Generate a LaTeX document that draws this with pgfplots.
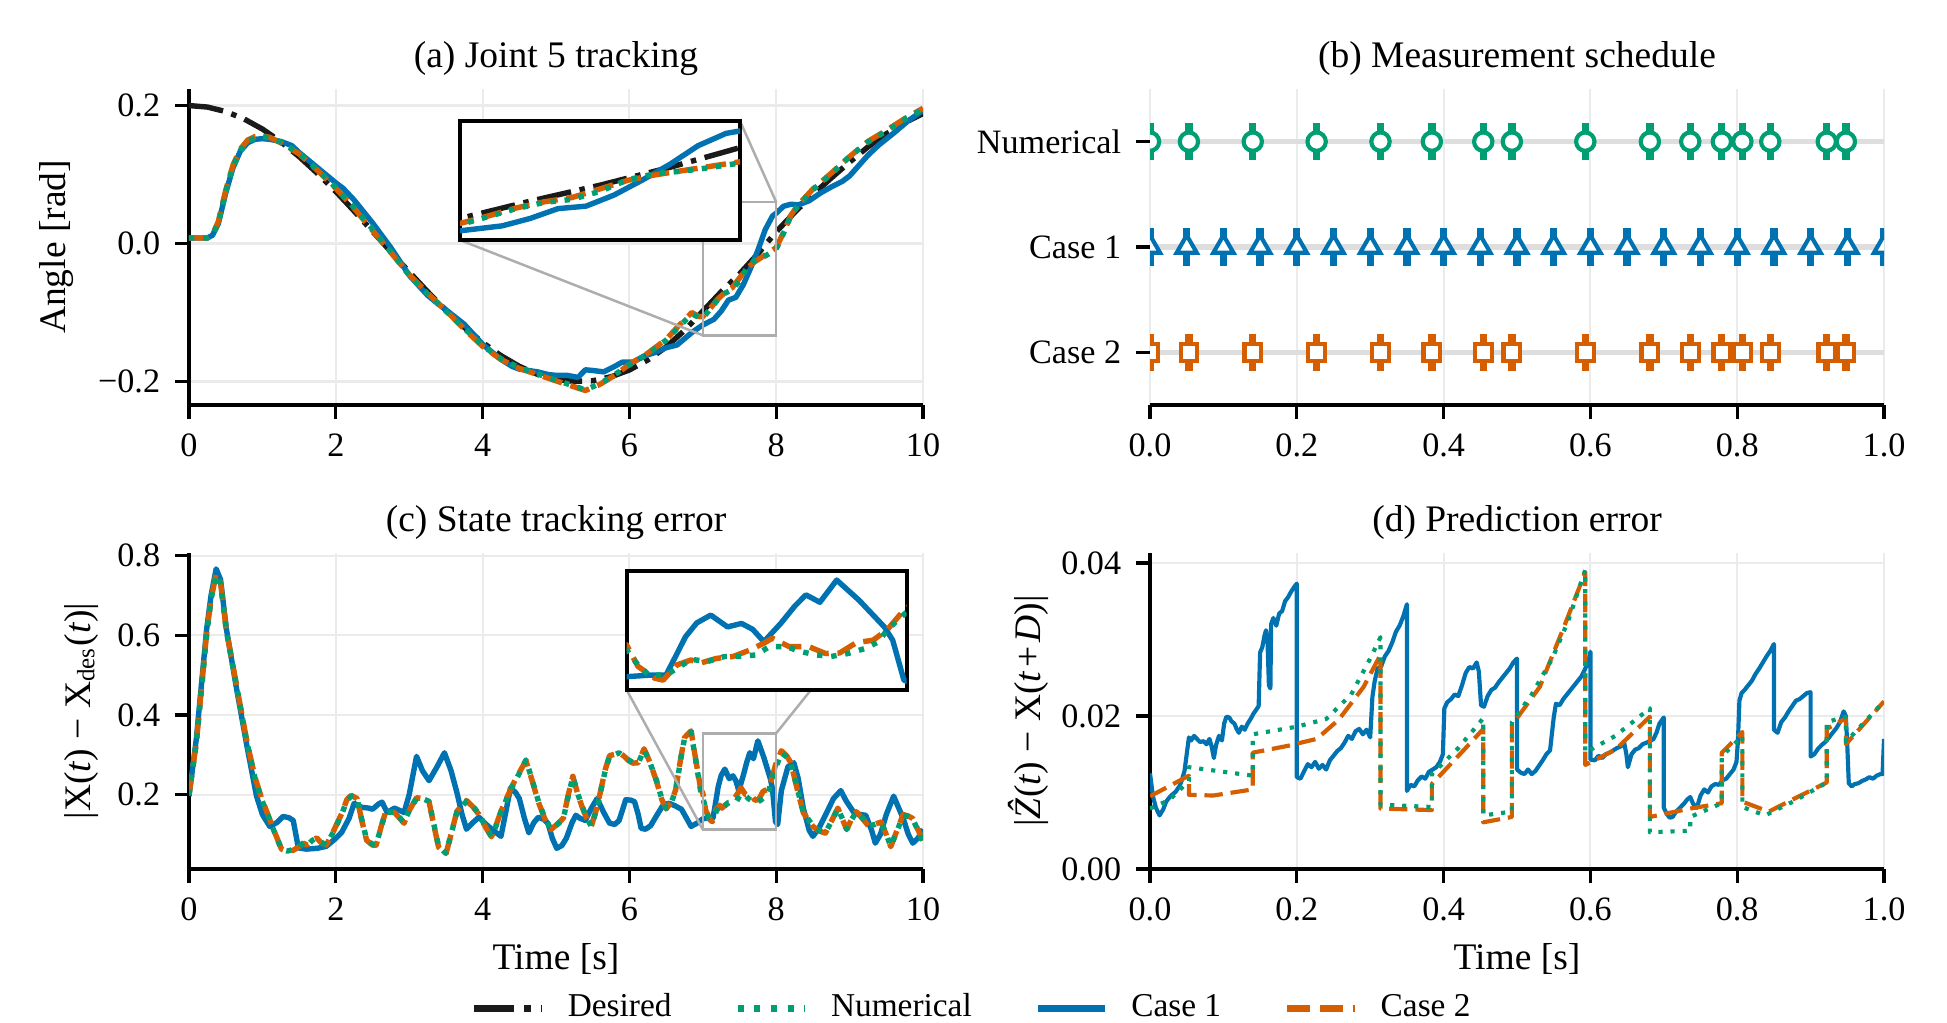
\documentclass[border=0pt]{standalone}
\usepackage{fontspec}
\setmainfont{Liberation Serif}
\usepackage{pgfplots}
\usepackage{pgfplotstable}
\pgfplotsset{compat=1.18}

\definecolor{cblue}{HTML}{0072B2}
\definecolor{corange}{HTML}{D55E00}
\definecolor{cgreen}{HTML}{009E73}
\definecolor{cdes}{HTML}{1A1A1A}
\definecolor{gridc}{HTML}{EBEBEB}
\definecolor{rowc}{HTML}{DEDEDE}
\definecolor{connc}{HTML}{ADADAD}

% ---------- (a) joint 5 angle ----------
\pgfplotstableread[row sep=\\]{t v\\
0 0.2000\\ 0.25 0.1978\\ 0.5 0.1913\\ 0.75 0.1806\\ 1.0 0.1659\\ 1.25 0.1476\\ 1.5 0.1260\\ 1.75 0.1016\\
2.0 0.0754\\ 2.25 0.0470\\ 2.5 0.0177\\ 2.75 -0.0119\\ 3.0 -0.0412\\ 3.25 -0.0697\\ 3.5 -0.0966\\ 3.75 -0.1214\\
4.0 -0.1435\\ 4.25 -0.1625\\ 4.5 -0.1780\\ 4.75 -0.1897\\ 5.0 -0.1970\\ 5.25 -0.1998\\ 5.5 -0.1989\\ 5.75 -0.1931\\
6.0 -0.1833\\ 6.25 -0.1688\\ 6.5 -0.1500\\ 6.75 -0.1260\\ 7.0 -0.0980\\ 7.25 -0.0700\\ 7.5 -0.0440\\ 7.75 -0.0150\\
8.0 0.0170\\ 8.25 0.0450\\ 8.5 0.0710\\ 8.75 0.0950\\ 9.0 0.1180\\ 9.25 0.1400\\ 9.5 0.1590\\ 9.75 0.1750\\ 10.0 0.1884\\
}\angDes
\pgfplotstableread[row sep=\\]{t v\\
0 0.008\\ 0.25 0.008\\ 0.32 0.012\\ 0.4 0.030\\ 0.5 0.075\\ 0.6 0.112\\ 0.7 0.135\\ 0.8 0.148\\ 0.9 0.153\\ 1.0 0.155\\
1.1 0.153\\ 1.25 0.147\\ 1.5 0.131\\ 1.75 0.107\\ 2.0 0.081\\ 2.25 0.052\\ 2.5 0.021\\ 2.75 -0.012\\ 3.0 -0.046\\
3.25 -0.073\\ 3.5 -0.098\\ 3.75 -0.123\\ 4.0 -0.148\\ 4.25 -0.167\\ 4.5 -0.180\\ 4.75 -0.189\\ 5.0 -0.198\\ 5.2 -0.205\\
5.4 -0.212\\ 5.6 -0.203\\ 5.8 -0.190\\ 6.0 -0.176\\ 6.25 -0.160\\ 6.5 -0.140\\ 6.7 -0.118\\ 6.85 -0.102\\ 6.95 -0.107\\
7.0 -0.108\\ 7.1 -0.095\\ 7.2 -0.082\\ 7.3 -0.072\\ 7.4 -0.067\\ 7.5 -0.054\\ 7.6 -0.035\\ 7.7 -0.025\\ 7.8 -0.021\\
7.9 -0.015\\ 8.0 -0.008\\ 8.1 0.015\\ 8.2 0.040\\ 8.3 0.055\\ 8.5 0.078\\ 8.75 0.101\\ 9.0 0.126\\ 9.25 0.147\\
9.5 0.163\\ 9.75 0.180\\ 10.0 0.195\\
}\angNum
\pgfplotstableread[row sep=\\]{t v\\
0 0.008\\ 0.25 0.008\\ 0.32 0.012\\ 0.4 0.029\\ 0.5 0.073\\ 0.6 0.110\\ 0.7 0.134\\ 0.8 0.146\\ 0.9 0.151\\ 1.0 0.152\\
1.1 0.151\\ 1.25 0.148\\ 1.4 0.142\\ 1.5 0.132\\ 1.75 0.110\\ 2.0 0.088\\ 2.1 0.080\\ 2.25 0.063\\ 2.5 0.030\\
2.75 -0.006\\ 3.0 -0.046\\ 3.25 -0.075\\ 3.4 -0.088\\ 3.5 -0.096\\ 3.75 -0.117\\ 4.0 -0.146\\ 4.25 -0.168\\ 4.4 -0.178\\
4.5 -0.182\\ 4.75 -0.186\\ 4.9 -0.190\\ 5.0 -0.191\\ 5.15 -0.191\\ 5.3 -0.194\\ 5.4 -0.183\\ 5.5 -0.184\\ 5.65 -0.186\\
5.8 -0.178\\ 5.9 -0.172\\ 6.05 -0.172\\ 6.2 -0.163\\ 6.35 -0.158\\ 6.5 -0.151\\ 6.65 -0.147\\ 6.75 -0.138\\ 6.85 -0.129\\
7.0 -0.118\\ 7.15 -0.110\\ 7.25 -0.098\\ 7.35 -0.082\\ 7.45 -0.078\\ 7.55 -0.060\\ 7.65 -0.036\\ 7.75 -0.010\\
7.85 0.020\\ 7.95 0.040\\ 8.0 0.044\\ 8.1 0.054\\ 8.2 0.057\\ 8.3 0.056\\ 8.45 0.062\\ 8.6 0.073\\ 8.75 0.082\\
8.9 0.090\\ 9.0 0.098\\ 9.1 0.110\\ 9.25 0.128\\ 9.4 0.143\\ 9.6 0.160\\ 9.8 0.178\\ 10.0 0.193\\
}\angCaseA
\pgfplotstableread[row sep=\\]{t v\\
0 0.008\\ 0.25 0.008\\ 0.32 0.013\\ 0.4 0.032\\ 0.5 0.077\\ 0.6 0.114\\ 0.7 0.137\\ 0.8 0.150\\ 0.9 0.155\\ 1.0 0.156\\
1.1 0.154\\ 1.25 0.146\\ 1.5 0.130\\ 1.75 0.106\\ 2.0 0.080\\ 2.25 0.051\\ 2.5 0.019\\ 2.75 -0.013\\ 3.0 -0.045\\
3.25 -0.072\\ 3.5 -0.097\\ 3.75 -0.124\\ 4.0 -0.149\\ 4.25 -0.168\\ 4.5 -0.181\\ 4.75 -0.190\\ 5.0 -0.199\\ 5.2 -0.206\\
5.4 -0.213\\ 5.6 -0.204\\ 5.8 -0.191\\ 6.0 -0.175\\ 6.25 -0.159\\ 6.5 -0.139\\ 6.7 -0.116\\ 6.85 -0.100\\ 6.95 -0.106\\
7.0 -0.106\\ 7.1 -0.094\\ 7.2 -0.081\\ 7.3 -0.071\\ 7.4 -0.064\\ 7.5 -0.050\\ 7.6 -0.036\\ 7.7 -0.027\\ 7.8 -0.020\\
7.9 -0.013\\ 8.0 -0.006\\ 8.1 0.016\\ 8.2 0.041\\ 8.3 0.056\\ 8.5 0.079\\ 8.75 0.102\\ 9.0 0.126\\ 9.25 0.148\\
9.5 0.164\\ 9.75 0.181\\ 10.0 0.196\\
}\angCaseB

% ---------- (c) state tracking error ----------
\pgfplotstableread[row sep=\\]{t v\\
0 0.196\\ 0.1 0.34\\ 0.24 0.615\\ 0.3 0.70\\ 0.37 0.767\\ 0.43 0.74\\ 0.51 0.615\\ 0.65 0.464\\ 0.79 0.321\\ 0.92 0.196\\
1.0 0.15\\ 1.1 0.12\\ 1.2 0.13\\ 1.28 0.145\\ 1.36 0.142\\ 1.42 0.135\\ 1.49 0.066\\ 1.6 0.063\\ 1.75 0.065\\ 1.87 0.070\\
2.0 0.09\\ 2.08 0.105\\ 2.18 0.14\\ 2.25 0.178\\ 2.35 0.168\\ 2.45 0.166\\ 2.5 0.163\\ 2.58 0.176\\ 2.63 0.181\\ 2.7 0.155\\
2.8 0.166\\ 2.93 0.155\\ 3.0 0.2\\ 3.1 0.296\\ 3.18 0.26\\ 3.27 0.235\\ 3.38 0.27\\ 3.48 0.305\\ 3.57 0.26\\ 3.65 0.205\\
3.72 0.15\\ 3.78 0.113\\ 3.87 0.13\\ 3.95 0.143\\ 4.02 0.13\\ 4.08 0.12\\ 4.18 0.105\\ 4.25 0.095\\ 4.32 0.16\\ 4.38 0.217\\
4.45 0.205\\ 4.5 0.19\\ 4.57 0.14\\ 4.63 0.104\\ 4.7 0.13\\ 4.76 0.143\\ 4.83 0.138\\ 4.89 0.128\\ 4.95 0.09\\ 5.01 0.065\\
5.08 0.072\\ 5.14 0.09\\ 5.22 0.13\\ 5.27 0.148\\ 5.33 0.14\\ 5.4 0.135\\ 5.48 0.165\\ 5.56 0.19\\ 5.65 0.155\\ 5.73 0.128\\
5.8 0.125\\ 5.86 0.135\\ 5.95 0.187\\ 6.02 0.186\\ 6.07 0.182\\ 6.12 0.15\\ 6.16 0.115\\ 6.22 0.113\\ 6.29 0.122\\ 6.38 0.15\\
6.46 0.174\\ 6.54 0.178\\ 6.62 0.172\\ 6.71 0.163\\ 6.78 0.14\\ 6.84 0.12\\ 6.92 0.128\\ 7.0 0.139\\ 7.08 0.142\\ 7.14 0.142\\
7.17 0.175\\ 7.21 0.22\\ 7.25 0.248\\ 7.30 0.264\\ 7.36 0.24\\ 7.41 0.247\\ 7.45 0.235\\ 7.49 0.21\\ 7.55 0.247\\ 7.60 0.282\\
7.64 0.305\\ 7.69 0.29\\ 7.75 0.335\\ 7.83 0.294\\ 7.92 0.24\\ 7.95 0.213\\ 7.99 0.132\\ 8.02 0.125\\ 8.07 0.21\\ 8.16 0.27\\
8.24 0.28\\ 8.3 0.24\\ 8.37 0.165\\ 8.45 0.11\\ 8.5 0.095\\ 8.58 0.115\\ 8.67 0.148\\ 8.78 0.19\\ 8.88 0.21\\ 8.95 0.185\\
9.05 0.157\\ 9.14 0.15\\ 9.22 0.148\\ 9.3 0.11\\ 9.35 0.078\\ 9.42 0.1\\ 9.5 0.15\\ 9.6 0.196\\ 9.66 0.17\\ 9.73 0.14\\
9.8 0.1\\ 9.86 0.078\\ 9.93 0.09\\ 10.0 0.113\\
}\errCaseA
\pgfplotstableread[row sep=\\]{t v\\
0 0.20\\ 0.1 0.33\\ 0.24 0.60\\ 0.3 0.69\\ 0.37 0.752\\ 0.43 0.73\\ 0.51 0.61\\ 0.65 0.47\\ 0.79 0.33\\ 0.9 0.24\\
0.99 0.187\\ 1.07 0.15\\ 1.15 0.112\\ 1.26 0.062\\ 1.34 0.058\\ 1.42 0.062\\ 1.5 0.07\\ 1.56 0.079\\ 1.61 0.072\\ 1.68 0.085\\
1.74 0.09\\ 1.8 0.08\\ 1.87 0.074\\ 1.95 0.1\\ 2.08 0.15\\ 2.15 0.185\\ 2.21 0.196\\ 2.29 0.19\\ 2.35 0.14\\ 2.42 0.087\\
2.5 0.075\\ 2.55 0.074\\ 2.62 0.12\\ 2.68 0.156\\ 2.8 0.156\\ 2.93 0.13\\ 3.0 0.16\\ 3.1 0.19\\ 3.18 0.19\\ 3.27 0.183\\
3.33 0.13\\ 3.4 0.07\\ 3.5 0.052\\ 3.57 0.1\\ 3.65 0.156\\ 3.78 0.183\\ 3.87 0.17\\ 3.95 0.152\\ 4.04 0.12\\ 4.12 0.095\\
4.18 0.12\\ 4.25 0.156\\ 4.33 0.19\\ 4.42 0.226\\ 4.52 0.26\\ 4.59 0.287\\ 4.67 0.24\\ 4.76 0.183\\ 4.85 0.14\\ 4.93 0.113\\
5.02 0.125\\ 5.1 0.139\\ 5.17 0.2\\ 5.23 0.244\\ 5.3 0.2\\ 5.35 0.174\\ 5.42 0.14\\ 5.48 0.121\\ 5.55 0.16\\ 5.61 0.209\\
5.67 0.26\\ 5.73 0.296\\ 5.8 0.3\\ 5.86 0.305\\ 5.93 0.295\\ 5.99 0.287\\ 6.05 0.28\\ 6.12 0.279\\ 6.2 0.313\\ 6.28 0.28\\
6.37 0.235\\ 6.44 0.19\\ 6.5 0.165\\ 6.57 0.18\\ 6.63 0.209\\ 6.7 0.29\\ 6.75 0.34\\ 6.84 0.357\\ 6.9 0.29\\ 6.97 0.209\\
7.0 0.193\\ 7.04 0.163\\ 7.08 0.142\\ 7.14 0.142\\ 7.23 0.174\\ 7.29 0.17\\ 7.35 0.18\\ 7.4 0.18\\ 7.46 0.183\\ 7.51 0.2\\
7.57 0.2\\ 7.62 0.19\\ 7.68 0.183\\ 7.73 0.18\\ 7.79 0.186\\ 7.85 0.196\\ 7.9 0.21\\ 7.93 0.234\\ 7.98 0.26\\ 8.07 0.305\\
8.14 0.295\\ 8.2 0.279\\ 8.28 0.22\\ 8.37 0.156\\ 8.5 0.121\\ 8.58 0.11\\ 8.67 0.104\\ 8.76 0.135\\ 8.84 0.165\\ 8.9 0.14\\
8.96 0.113\\ 9.02 0.135\\ 9.09 0.156\\ 9.18 0.14\\ 9.26 0.121\\ 9.35 0.125\\ 9.43 0.13\\ 9.5 0.1\\ 9.56 0.07\\ 9.65 0.11\\
9.73 0.148\\ 9.8 0.145\\ 9.86 0.139\\ 9.93 0.11\\ 10.0 0.082\\
}\errNum
\pgfplotstableread[row sep=\\]{t v\\
0 0.20\\ 0.1 0.33\\ 0.24 0.605\\ 0.3 0.69\\ 0.37 0.755\\ 0.43 0.732\\ 0.51 0.612\\ 0.65 0.472\\ 0.79 0.332\\ 0.9 0.243\\
0.99 0.19\\ 1.07 0.152\\ 1.15 0.113\\ 1.26 0.063\\ 1.34 0.057\\ 1.42 0.06\\ 1.5 0.069\\ 1.56 0.078\\ 1.61 0.073\\ 1.68 0.086\\
1.74 0.091\\ 1.8 0.079\\ 1.87 0.073\\ 1.95 0.101\\ 2.08 0.152\\ 2.15 0.187\\ 2.21 0.198\\ 2.29 0.19\\ 2.35 0.138\\ 2.42 0.085\\
2.5 0.073\\ 2.55 0.073\\ 2.62 0.121\\ 2.68 0.157\\ 2.8 0.155\\ 2.93 0.128\\ 3.0 0.16\\ 3.1 0.192\\ 3.18 0.19\\ 3.27 0.182\\
3.33 0.128\\ 3.4 0.068\\ 3.5 0.05\\ 3.57 0.1\\ 3.65 0.158\\ 3.78 0.185\\ 3.87 0.169\\ 3.95 0.15\\ 4.04 0.118\\ 4.12 0.094\\
4.18 0.121\\ 4.25 0.158\\ 4.33 0.192\\ 4.42 0.228\\ 4.52 0.262\\ 4.59 0.285\\ 4.67 0.238\\ 4.76 0.181\\ 4.85 0.138\\ 4.93 0.112\\
5.02 0.126\\ 5.1 0.141\\ 5.17 0.202\\ 5.23 0.246\\ 5.3 0.199\\ 5.35 0.172\\ 5.42 0.139\\ 5.48 0.12\\ 5.55 0.162\\ 5.61 0.211\\
5.67 0.262\\ 5.73 0.298\\ 5.8 0.301\\ 5.86 0.306\\ 5.93 0.296\\ 5.99 0.285\\ 6.05 0.279\\ 6.12 0.28\\ 6.2 0.315\\ 6.28 0.281\\
6.37 0.233\\ 6.44 0.188\\ 6.5 0.164\\ 6.57 0.181\\ 6.63 0.212\\ 6.7 0.292\\ 6.75 0.343\\ 6.84 0.36\\ 6.9 0.292\\ 6.97 0.215\\
7.0 0.203\\ 7.04 0.16\\ 7.1 0.136\\ 7.13 0.132\\ 7.18 0.163\\ 7.23 0.173\\ 7.26 0.166\\ 7.32 0.176\\ 7.38 0.18\\ 7.44 0.193\\
7.49 0.207\\ 7.52 0.217\\ 7.58 0.2\\ 7.65 0.2\\ 7.71 0.186\\ 7.76 0.187\\ 7.82 0.208\\ 7.88 0.213\\ 7.93 0.234\\ 7.99 0.274\\
8.07 0.31\\ 8.14 0.298\\ 8.2 0.28\\ 8.28 0.218\\ 8.37 0.154\\ 8.5 0.12\\ 8.58 0.109\\ 8.67 0.103\\ 8.76 0.136\\ 8.84 0.166\\
8.9 0.139\\ 8.96 0.112\\ 9.02 0.136\\ 9.09 0.157\\ 9.18 0.139\\ 9.26 0.12\\ 9.35 0.126\\ 9.43 0.131\\ 9.5 0.099\\ 9.56 0.069\\
9.65 0.112\\ 9.73 0.15\\ 9.8 0.146\\ 9.86 0.14\\ 9.93 0.112\\ 10.0 0.085\\
}\errCaseB

% ---------- (b) measurement instants (row 2 = Numerical, row 0 = Case 2) ----------
\pgfplotstableread[row sep=\\]{t num cb\\ 0 2 0\\ 0.053 2 0\\ 0.140 2 0\\ 0.227 2 0\\ 0.314 2 0\\ 0.384 2 0\\ 0.454 2 0\\ 0.493 2 0\\
0.593 2 0\\ 0.681 2 0\\ 0.736 2 0\\ 0.779 2 0\\ 0.807 2 0\\ 0.845 2 0\\ 0.922 2 0\\ 0.948 2 0\\}\measEvent
\pgfplotstableread[row sep=\\]{t ca\\ 0 1\\ 0.05 1\\ 0.10 1\\ 0.15 1\\ 0.20 1\\ 0.25 1\\ 0.30 1\\ 0.35 1\\ 0.40 1\\ 0.45 1\\ 0.50 1\\
0.55 1\\ 0.60 1\\ 0.65 1\\ 0.70 1\\ 0.75 1\\ 0.80 1\\ 0.85 1\\ 0.90 1\\ 0.95 1\\ 1.00 1\\}\measPeriodic

% ---------- (d) prediction error ----------
\pgfplotstableread[row sep=\\]{t v\\
0 0.0079\\ 0.026 0.0090\\ 0.053 0.0115\\ 0.053 0.0133\\ 0.14 0.0122\\ 0.14 0.0176\\ 0.20 0.0186\\ 0.24 0.0196\\ 0.274 0.0228\\
0.30 0.0275\\ 0.314 0.0303\\ 0.314 0.0084\\ 0.384 0.0081\\ 0.384 0.0124\\ 0.42 0.0158\\ 0.454 0.0197\\ 0.454 0.0070\\
0.493 0.0075\\ 0.493 0.0192\\ 0.52 0.0228\\ 0.548 0.0275\\ 0.57 0.0325\\ 0.593 0.0391\\ 0.593 0.0152\\ 0.634 0.0174\\
0.681 0.0210\\ 0.681 0.0048\\ 0.736 0.0050\\ 0.736 0.0068\\ 0.779 0.0086\\ 0.779 0.0147\\ 0.807 0.0174\\ 0.807 0.0081\\
0.838 0.0070\\ 0.88 0.0090\\ 0.922 0.0113\\ 0.922 0.0192\\ 0.948 0.0199\\ 0.948 0.0166\\ 1.0 0.0219\\
}\prdNum
\pgfplotstableread[row sep=\\]{t v\\
0 0.0095\\ 0.053 0.0122\\ 0.053 0.0097\\ 0.086 0.0096\\ 0.14 0.0104\\ 0.14 0.0152\\ 0.188 0.0161\\ 0.227 0.0170\\
0.257 0.0195\\ 0.291 0.0238\\ 0.314 0.0280\\ 0.314 0.0079\\ 0.384 0.0077\\ 0.384 0.0111\\ 0.428 0.0156\\ 0.454 0.0183\\
0.454 0.0061\\ 0.493 0.0068\\ 0.493 0.0188\\ 0.531 0.0238\\ 0.565 0.0319\\ 0.593 0.0388\\ 0.593 0.0136\\ 0.634 0.0156\\
0.681 0.0199\\ 0.681 0.0068\\ 0.736 0.0079\\ 0.779 0.0086\\ 0.779 0.0152\\ 0.807 0.0179\\ 0.807 0.0088\\ 0.843 0.0075\\
0.88 0.0093\\ 0.922 0.0113\\ 0.922 0.0183\\ 0.948 0.0197\\ 0.948 0.0163\\ 1.0 0.0219\\
}\prdCaseB
\pgfplotstableread[row sep=\\]{t v\\
0.000 0.0125\\ 0.004 0.0095\\ 0.008 0.0080\\ 0.013 0.0070\\ 0.018 0.0078\\ 0.022 0.0088\\ 0.026 0.0093\\ 0.030 0.0097\\
0.035 0.0101\\ 0.040 0.0108\\ 0.043 0.0115\\ 0.047 0.0128\\ 0.050 0.0150\\ 0.053 0.0172\\ 0.056 0.0168\\ 0.060 0.0174\\
0.064 0.0170\\ 0.068 0.0166\\ 0.073 0.0167\\ 0.077 0.0163\\ 0.081 0.0170\\ 0.084 0.0160\\ 0.087 0.0145\\ 0.090 0.0162\\
0.094 0.0174\\ 0.098 0.0168\\ 0.101 0.0190\\ 0.104 0.0199\\ 0.108 0.0198\\ 0.111 0.0193\\ 0.115 0.0190\\ 0.118 0.0183\\
0.121 0.0178\\ 0.125 0.0186\\ 0.129 0.0182\\ 0.133 0.0190\\ 0.137 0.0196\\ 0.141 0.0203\\ 0.146 0.0210\\ 0.148 0.0213\\
0.150 0.0283\\ 0.153 0.0290\\ 0.156 0.0305\\ 0.158 0.0312\\ 0.160 0.0300\\ 0.162 0.0240\\ 0.164 0.0236\\ 0.165 0.0320\\
0.168 0.0328\\ 0.172 0.0318\\ 0.176 0.0334\\ 0.180 0.0337\\ 0.184 0.0350\\ 0.188 0.0355\\ 0.192 0.0362\\ 0.196 0.0368\\
0.200 0.0373\\ 0.200 0.0120\\ 0.205 0.0118\\ 0.210 0.0128\\ 0.215 0.0137\\ 0.220 0.0133\\ 0.225 0.0140\\ 0.230 0.0131\\
0.235 0.0136\\ 0.240 0.0130\\ 0.245 0.0142\\ 0.250 0.0148\\ 0.255 0.0154\\ 0.260 0.0158\\ 0.265 0.0165\\ 0.270 0.0174\\
0.275 0.0170\\ 0.280 0.0180\\ 0.285 0.0183\\ 0.290 0.0176\\ 0.295 0.0182\\ 0.300 0.0172\\ 0.303 0.0225\\ 0.306 0.0245\\
0.310 0.0262\\ 0.315 0.0265\\ 0.320 0.0278\\ 0.325 0.0285\\ 0.330 0.0296\\ 0.335 0.0310\\ 0.340 0.0318\\ 0.345 0.0330\\
0.350 0.0346\\ 0.350 0.0102\\ 0.355 0.0110\\ 0.360 0.0108\\ 0.365 0.0116\\ 0.370 0.0121\\ 0.375 0.0118\\ 0.380 0.0127\\
0.385 0.0130\\ 0.390 0.0133\\ 0.395 0.0140\\ 0.399 0.0150\\ 0.401 0.0210\\ 0.405 0.0218\\ 0.410 0.0222\\ 0.415 0.0228\\
0.420 0.0226\\ 0.425 0.0240\\ 0.430 0.0256\\ 0.435 0.0264\\ 0.440 0.0262\\ 0.445 0.0270\\ 0.448 0.0258\\ 0.451 0.0214\\
0.455 0.0212\\ 0.460 0.0226\\ 0.465 0.0234\\ 0.470 0.0237\\ 0.475 0.0244\\ 0.480 0.0250\\ 0.485 0.0256\\ 0.490 0.0262\\
0.495 0.0270\\ 0.500 0.0275\\ 0.500 0.0130\\ 0.505 0.0126\\ 0.510 0.0124\\ 0.515 0.0130\\ 0.520 0.0124\\ 0.525 0.0128\\
0.530 0.0135\\ 0.535 0.0142\\ 0.540 0.0150\\ 0.545 0.0155\\ 0.550 0.0198\\ 0.553 0.0216\\ 0.558 0.0214\\ 0.563 0.0222\\
0.568 0.0228\\ 0.573 0.0234\\ 0.578 0.0240\\ 0.583 0.0246\\ 0.588 0.0252\\ 0.593 0.0262\\ 0.597 0.0270\\ 0.600 0.0284\\
0.600 0.0143\\ 0.606 0.0142\\ 0.611 0.0148\\ 0.616 0.0145\\ 0.621 0.0150\\ 0.626 0.0152\\ 0.631 0.0155\\ 0.636 0.0158\\
0.641 0.0160\\ 0.646 0.0165\\ 0.649 0.0150\\ 0.651 0.0133\\ 0.656 0.0150\\ 0.661 0.0156\\ 0.666 0.0158\\ 0.671 0.0163\\
0.676 0.0165\\ 0.681 0.0167\\ 0.686 0.0170\\ 0.690 0.0178\\ 0.694 0.0190\\ 0.700 0.0198\\ 0.700 0.0080\\ 0.704 0.0072\\
0.708 0.0067\\ 0.712 0.0068\\ 0.716 0.0074\\ 0.720 0.0078\\ 0.724 0.0082\\ 0.728 0.0086\\ 0.732 0.0091\\ 0.736 0.0094\\
0.740 0.0085\\ 0.745 0.0080\\ 0.750 0.0096\\ 0.755 0.0104\\ 0.760 0.0100\\ 0.765 0.0108\\ 0.770 0.0111\\ 0.775 0.0110\\
0.780 0.0116\\ 0.785 0.0118\\ 0.790 0.0124\\ 0.795 0.0130\\ 0.799 0.0140\\ 0.801 0.0168\\ 0.803 0.0220\\ 0.806 0.0230\\
0.810 0.0234\\ 0.815 0.0240\\ 0.820 0.0246\\ 0.825 0.0255\\ 0.830 0.0262\\ 0.835 0.0270\\ 0.840 0.0278\\ 0.845 0.0285\\
0.850 0.0294\\ 0.850 0.0182\\ 0.855 0.0178\\ 0.860 0.0192\\ 0.865 0.0198\\ 0.870 0.0206\\ 0.875 0.0213\\ 0.880 0.0220\\
0.885 0.0222\\ 0.890 0.0226\\ 0.895 0.0230\\ 0.900 0.0231\\ 0.900 0.0147\\ 0.905 0.0150\\ 0.910 0.0157\\ 0.915 0.0162\\
0.920 0.0166\\ 0.925 0.0172\\ 0.930 0.0178\\ 0.935 0.0184\\ 0.940 0.0192\\ 0.945 0.0206\\ 0.948 0.0200\\ 0.950 0.0160\\
0.952 0.0112\\ 0.956 0.0108\\ 0.960 0.0111\\ 0.965 0.0112\\ 0.970 0.0115\\ 0.975 0.0117\\ 0.980 0.0120\\ 0.985 0.0118\\
0.990 0.0122\\ 0.995 0.0124\\ 0.998 0.0124\\ 1.000 0.0170\\
}\prdCaseA

\tikzset{
  desired/.style={cdes, line width=1.3pt, line join=round, dash pattern=on 8.3pt off 2.1pt on 1.3pt off 2.1pt},
  numer/.style={cgreen, line width=1.3pt, line join=round, dash pattern=on 1.3pt off 2.1pt},
  caseA/.style={cblue, line width=1.3pt, line join=round, solid},
  caseB/.style={corange, line width=1.3pt, line join=round, dash pattern=on 4.8pt off 2.1pt},
  conn/.style={connc, line width=0.6pt},
}
\pgfplotsset{
  panel/.style={
    scale only axis, width=176.16pt, height=75.84pt, anchor=south west,
    axis lines=left, axis line style={-, line width=0.8pt, black},
    tick align=outside, major tick length=3.4pt,
    tick style={black, line width=0.8pt},
    scaled x ticks=false, scaled y ticks=false,
    xmajorgrids, ymajorgrids, grid style={gridc, line width=0.5pt},
    tick label style={font=\fontsize{8.2}{9.8}\selectfont},
    label style={font=\fontsize{9}{10.8}\selectfont},
    title style={font=\fontsize{9}{10.8}\selectfont, at={(0.5,1)}, anchor=center, yshift=1.4pt},
    xlabel style={at={(axis description cs:0.5,0)}, anchor=center, yshift=-21.5pt},
  },
  insetax/.style={
    scale only axis, anchor=south west, width=67.2pt,
    xtick=\empty, ytick=\empty,
    axis line style={line width=0.9pt, black},
    axis background/.style={fill=white},
  },
  measbar/.style={only marks, mark=|, mark size=4.5pt, line width=1.75pt},
}

\begin{document}
\begin{tikzpicture}
\useasboundingbox (0,0) rectangle (467.28pt,245.52pt);

% (a) joint angle
\begin{axis}[panel, at={(45.36pt,148.32pt)},
  xmin=0, xmax=10, ymin=-0.234, ymax=0.224,
  xtick={0,2,4,6,8,10}, xticklabels={0,2,4,6,8,10},
  ytick={-0.2,0,0.2}, yticklabels={−0.2,0.0,0.2},
  ylabel={Angle [rad]}, ylabel style={at={(axis description cs:-0.181,0.5)}, anchor=center},
  title={(a) Joint 5 tracking}]
  \addplot[desired] table[x=t,y=v] {\angDes};
  \addplot[caseA] table[x=t,y=v] {\angCaseA};
  \addplot[caseB] table[x=t,y=v] {\angCaseB};
  \addplot[numer] table[x=t,y=v] {\angNum};
  \coordinate (aSW) at (axis cs:7,-0.133);
  \coordinate (aNE) at (axis cs:8,0.06);
  \draw[conn] (aSW) rectangle (aNE);
\end{axis}
\draw[conn] (aSW) -- (110.4pt,187.9pt);
\draw[conn] (aNE) -- (177.6pt,216.46pt);
\begin{axis}[insetax, at={(110.4pt,187.9pt)}, height=28.56pt,
  xmin=7, xmax=8, ymin=-0.133, ymax=0.06]
  \addplot[desired] table[x=t,y=v] {\angDes};
  \addplot[caseA] table[x=t,y=v] {\angCaseA};
  \addplot[caseB] table[x=t,y=v] {\angCaseB};
  \addplot[numer] table[x=t,y=v] {\angNum};
\end{axis}

% (b) measurement schedule
\begin{axis}[panel, at={(276pt,148.32pt)},
  xmin=0, xmax=1, ymin=-0.5, ymax=2.5,
  xtick={0,0.2,0.4,0.6,0.8,1}, xticklabels={0.0,0.2,0.4,0.6,0.8,1.0},
  ytick={0,1,2}, yticklabels={Case 2,Case 1,Numerical},
  ymajorgrids=false, y axis line style={draw=none},
  clip marker paths=true,
  title={(b) Measurement schedule}]
  \addplot[rowc, line width=1.3pt] coordinates {(0,2) (1,2)};
  \addplot[rowc, line width=1.3pt] coordinates {(0,1) (1,1)};
  \addplot[rowc, line width=1.3pt] coordinates {(0,0) (1,0)};
  \addplot[cgreen, measbar] table[x=t,y=num] {\measEvent};
  \addplot[only marks, mark=*, mark size=2.2pt, mark options={draw=cgreen, fill=white, line width=1.0pt}] table[x=t,y=num] {\measEvent};
  \addplot[cblue, measbar] table[x=t,y=ca] {\measPeriodic};
  \addplot[only marks, mark=triangle*, mark size=2.8pt, mark options={draw=cblue, fill=white, line width=1.0pt}] table[x=t,y=ca] {\measPeriodic};
  \addplot[corange, measbar] table[x=t,y=cb] {\measEvent};
  \addplot[only marks, mark=square*, mark size=2.0pt, mark options={draw=corange, fill=white, line width=1.0pt}] table[x=t,y=cb] {\measEvent};
\end{axis}

% (c) state tracking error
\begin{axis}[panel, at={(45.36pt,36.96pt)},
  xmin=0, xmax=10, ymin=0.013, ymax=0.807,
  xtick={0,2,4,6,8,10}, xticklabels={0,2,4,6,8,10},
  ytick={0.2,0.4,0.6,0.8}, yticklabels={0.2,0.4,0.6,0.8},
  xlabel={Time [s]},
  ylabel={|X(\textit{t})\hspace{0.25em}−\hspace{0.25em}X\textsubscript{des}(\textit{t})|},
  ylabel style={at={(axis description cs:-0.147,0.5)}, anchor=center},
  title={(c) State tracking error}]
  \addplot[caseA] table[x=t,y=v] {\errCaseA};
  \addplot[caseB] table[x=t,y=v] {\errCaseB};
  \addplot[numer] table[x=t,y=v] {\errNum};
  \coordinate (cSW) at (axis cs:7,0.112);
  \coordinate (cNE) at (axis cs:8,0.354);
  \draw[conn] (cSW) rectangle (cNE);
\end{axis}
\draw[conn] (cSW) -- (150.4pt,79.92pt);
\draw[conn] (cNE) -- (217.6pt,108.55pt);
\begin{axis}[insetax, at={(150.4pt,79.92pt)}, height=28.63pt,
  xmin=7, xmax=8, ymin=0.112, ymax=0.354]
  \addplot[caseA] table[x=t,y=v] {\errCaseA};
  \addplot[caseB] table[x=t,y=v] {\errCaseB};
  \addplot[numer] table[x=t,y=v] {\errNum};
\end{axis}

% (d) prediction error, with the shared legend below the panels
\begin{axis}[panel, at={(276pt,36.96pt)},
  xmin=0, xmax=1, ymin=0, ymax=0.0413,
  xtick={0,0.2,0.4,0.6,0.8,1}, xticklabels={0.0,0.2,0.4,0.6,0.8,1.0},
  ytick={0,0.02,0.04}, yticklabels={0.00,0.02,0.04},
  xlabel={Time [s]},
  ylabel={|\textit{\^{Z}}(\textit{t})\hspace{0.25em}−\hspace{0.25em}X(\textit{t}\hspace{0.1em}+\hspace{0.1em}\textit{D})|},
  ylabel style={at={(axis description cs:-0.166,0.5)}, anchor=center},
  title={(d) Prediction error},
  legend columns=4, legend cell align=left,
  legend image code/.code={\draw[#1] (0pt,0pt) -- (16.2pt,0pt);},
  legend style={at={(-0.2441,-0.4414)}, anchor=center, draw=none, fill=none,
    font=\fontsize{8}{9.6}\selectfont, inner sep=0pt,
    nodes={inner xsep=0pt},
    /tikz/every odd column/.append style={column sep=5.5pt},
    /tikz/every even column/.append style={column sep=15.1pt}}]
  \addlegendimage{cdes, line width=1.5pt, dash pattern=on 9.6pt off 2.4pt on 1.5pt off 2.4pt}
  \addlegendentry{Desired}
  \addlegendimage{cgreen, line width=1.5pt, dash pattern=on 1.5pt off 2.5pt}
  \addlegendentry{Numerical}
  \addlegendimage{cblue, line width=1.5pt}
  \addlegendentry{Case 1}
  \addlegendimage{corange, line width=1.5pt, dash pattern=on 5.5pt off 2.4pt}
  \addlegendentry{Case 2}
  \addplot[cblue, line width=1.0pt, line join=round, forget plot] table[x=t,y=v] {\prdCaseA};
  \addplot[corange, line width=1.0pt, line join=round, dash pattern=on 4.4pt off 1.9pt, forget plot] table[x=t,y=v] {\prdCaseB};
  \addplot[cgreen, line width=1.0pt, line join=round, dash pattern=on 1.0pt off 1.9pt, forget plot] table[x=t,y=v] {\prdNum};
\end{axis}
\end{tikzpicture}
\end{document}
